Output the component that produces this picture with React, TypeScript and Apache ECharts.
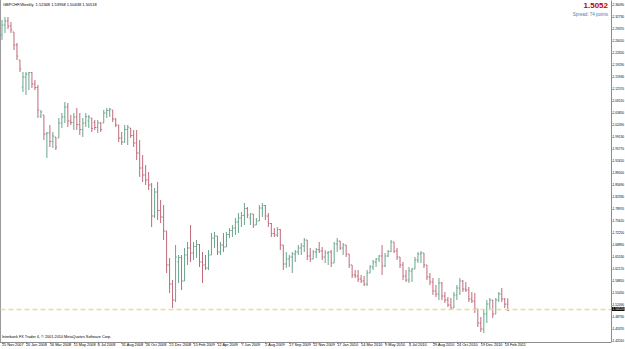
import React, { useEffect, useRef } from 'react';
import * as echarts from 'echarts';

const symbolTitle = 'GBPCHF,Weekly  1.52348 1.53968 1.50438 1.50518';
const bidPrice = 1.5052;
const spreadText = 'Spread: 74 points';
const copyrightText = 'Interbank FX Trader 4, © 2001-2010 MetaQuotes Software Corp.';

// one label every 8 weekly bars, starting at the first bar
const dateLabels = ['25 Nov 2007', '20 Jan 2008', '16 Mar 2008', '11 May 2008', '6 Jul 2008', '31 Aug 2008', '26 Oct 2008', '21 Dec 2008', '15 Feb 2009', '12 Apr 2009', '7 Jun 2009', '2 Aug 2009', '27 Sep 2009', '22 Nov 2009', '17 Jan 2010', '14 Mar 2010', '9 May 2010', '4 Jul 2010', '29 Aug 2010', '24 Oct 2010', '19 Dec 2010', '13 Feb 2011'];
const labelEvery = 8;
const emptySlots = 34;

const priceTicks = [2.3609, 2.3273, 2.2937, 2.2601, 2.2265, 2.1929, 2.1593, 2.1257, 2.0921, 2.0585, 2.0249, 1.9913, 1.9577, 1.9241, 1.8905, 1.8569, 1.8233, 1.7897, 1.7561, 1.7225, 1.6889, 1.6553, 1.6217, 1.5881, 1.5545, 1.5209, 1.4873, 1.4537, 1.4201];

const opens = [2.277, 2.305, 2.3162, 2.3022, 2.2854, 2.249, 2.207, 2.1314, 2.1594, 2.1678, 2.172, 2.1398, 2.13, 2.0502, 2.053, 1.9998, 2.0026, 1.9788, 1.9914, 1.9886, 2.0306, 2.0474, 2.0754, 2.0362, 2.032, 2.0474, 2.0264, 2.0124, 2.0306, 2.0362, 2.0446, 2.032, 2.018, 2.0306, 2.0306, 2.0586, 2.0656, 2.067, 2.0418, 2.025, 1.9886, 1.9774, 2.0124, 2.0166, 1.9956, 1.9746, 1.9466, 1.9046, 1.885, 1.871, 1.857, 1.7702, 1.8374, 1.7856, 1.7674, 1.7282, 1.633, 1.5798, 1.535, 1.6414, 1.654, 1.5882, 1.661, 1.6806, 1.6666, 1.6848, 1.6904, 1.6414, 1.633, 1.6246, 1.661, 1.7086, 1.7142, 1.6694, 1.689, 1.6834, 1.7184, 1.7296, 1.7366, 1.7534, 1.7646, 1.7716, 1.7912, 1.7646, 1.7758, 1.745, 1.7562, 1.7926, 1.7996, 1.7702, 1.7492, 1.7212, 1.717, 1.7324, 1.689, 1.6358, 1.6498, 1.6554, 1.6638, 1.6694, 1.6806, 1.6862, 1.703, 1.6582, 1.6498, 1.6694, 1.6764, 1.6722, 1.6554, 1.6666, 1.6694, 1.6386, 1.6918, 1.7002, 1.6806, 1.689, 1.6638, 1.633, 1.605, 1.6022, 1.5938, 1.5882, 1.5798, 1.6106, 1.6274, 1.6414, 1.6498, 1.6582, 1.6302, 1.6582, 1.6708, 1.6974, 1.6722, 1.6554, 1.633, 1.6022, 1.591, 1.6162, 1.6218, 1.647, 1.6638, 1.6666, 1.633, 1.5994, 1.5854, 1.5602, 1.5518, 1.5826, 1.5462, 1.535, 1.521, 1.5126, 1.549, 1.5686, 1.5882, 1.5658, 1.563, 1.5378, 1.5322, 1.5098, 1.4706, 1.4538, 1.4958, 1.5238, 1.535, 1.4958, 1.535, 1.5518, 1.5378, 1.5235];
const highs = [2.319, 2.3274, 2.3274, 2.3134, 2.2854, 2.2546, 2.207, 2.1734, 2.1734, 2.1734, 2.1734, 2.151, 2.137, 2.067, 2.053, 2.0054, 2.025, 2.0054, 1.9914, 2.0446, 2.0586, 2.0894, 2.0866, 2.053, 2.0586, 2.0726, 2.0586, 2.0446, 2.0586, 2.053, 2.0446, 2.039, 2.039, 2.0334, 2.067, 2.0726, 2.0726, 2.067, 2.0446, 2.025, 2.0054, 2.025, 2.025, 2.0166, 2.011, 2.011, 1.983, 1.941, 1.913, 1.8934, 1.8626, 1.8486, 1.8654, 1.815, 1.801, 1.7282, 1.6526, 1.591, 1.689, 1.661, 1.661, 1.6806, 1.6974, 1.745, 1.6974, 1.703, 1.6918, 1.6694, 1.661, 1.675, 1.7226, 1.7254, 1.7142, 1.6974, 1.7226, 1.7254, 1.7366, 1.745, 1.7646, 1.7786, 1.7814, 1.8066, 1.7954, 1.7786, 1.7758, 1.7646, 1.801, 1.8066, 1.801, 1.7786, 1.7506, 1.7366, 1.7394, 1.7338, 1.689, 1.6694, 1.661, 1.6694, 1.675, 1.689, 1.6946, 1.7086, 1.703, 1.6806, 1.675, 1.6806, 1.6974, 1.6834, 1.675, 1.6722, 1.675, 1.6974, 1.7086, 1.7002, 1.6946, 1.689, 1.6638, 1.633, 1.619, 1.619, 1.605, 1.6022, 1.619, 1.633, 1.647, 1.6526, 1.661, 1.689, 1.6666, 1.675, 1.703, 1.6974, 1.6806, 1.6554, 1.6414, 1.619, 1.6274, 1.6246, 1.6554, 1.6694, 1.6722, 1.6666, 1.633, 1.6106, 1.5966, 1.577, 1.5966, 1.5854, 1.5574, 1.5434, 1.5406, 1.5574, 1.577, 1.5966, 1.591, 1.5854, 1.5714, 1.5574, 1.5546, 1.5098, 1.4874, 1.507, 1.535, 1.5406, 1.535, 1.5406, 1.5574, 1.5686, 1.5406, 1.5397];
const lows = [2.263, 2.2826, 2.2938, 2.2826, 2.235, 2.207, 2.1734, 2.1174, 2.109, 2.123, 2.1286, 2.123, 2.0446, 2.0446, 1.983, 1.9326, 1.9634, 1.9606, 1.955, 1.9886, 2.0166, 2.0306, 2.0194, 2.025, 2.011, 2.011, 1.997, 1.9914, 2.0194, 2.0166, 2.0054, 2.011, 2.0026, 2.0054, 2.0306, 2.0446, 2.0474, 2.0334, 2.0194, 1.9774, 1.969, 1.9746, 1.969, 1.9886, 1.9634, 1.927, 1.8794, 1.8654, 1.857, 1.843, 1.7394, 1.7646, 1.759, 1.7506, 1.703, 1.6106, 1.5546, 1.5126, 1.5294, 1.5826, 1.563, 1.5882, 1.633, 1.6414, 1.647, 1.6526, 1.6274, 1.5826, 1.619, 1.619, 1.661, 1.6806, 1.661, 1.661, 1.6694, 1.6834, 1.7086, 1.7114, 1.717, 1.7226, 1.7394, 1.745, 1.7646, 1.745, 1.7366, 1.745, 1.7562, 1.7674, 1.759, 1.7394, 1.7114, 1.7114, 1.7114, 1.675, 1.619, 1.6246, 1.6274, 1.6106, 1.6414, 1.661, 1.661, 1.6694, 1.647, 1.6414, 1.6498, 1.6526, 1.6666, 1.647, 1.6386, 1.633, 1.6274, 1.6386, 1.6694, 1.675, 1.661, 1.6554, 1.6246, 1.5966, 1.5966, 1.5854, 1.5826, 1.5742, 1.5742, 1.6106, 1.619, 1.6274, 1.6414, 1.605, 1.6274, 1.6554, 1.6694, 1.6666, 1.647, 1.6246, 1.591, 1.5854, 1.5826, 1.5854, 1.6218, 1.6386, 1.6386, 1.6246, 1.591, 1.577, 1.549, 1.5434, 1.535, 1.535, 1.5266, 1.5154, 1.507, 1.5126, 1.535, 1.549, 1.5574, 1.5574, 1.5294, 1.5266, 1.4986, 1.4594, 1.4454, 1.4426, 1.4706, 1.507, 1.4846, 1.4958, 1.5294, 1.5294, 1.5126, 1.5044];
const closes = [2.305, 2.3162, 2.3022, 2.291, 2.249, 2.2182, 2.1818, 2.1594, 2.1678, 2.172, 2.1398, 2.13, 2.067, 2.0614, 1.9998, 2.0026, 1.9788, 1.9942, 1.9634, 2.0306, 2.0474, 2.0754, 2.0362, 2.032, 2.0474, 2.0264, 2.0124, 2.0306, 2.0488, 2.0474, 2.0152, 2.018, 2.0306, 2.0124, 2.0586, 2.0656, 2.0698, 2.0418, 2.025, 1.9886, 1.9774, 2.0124, 2.0194, 1.9956, 1.9746, 1.9466, 1.9046, 1.885, 1.871, 1.857, 1.7702, 1.8374, 1.7856, 1.7674, 1.7282, 1.633, 1.5798, 1.535, 1.6554, 1.654, 1.5882, 1.661, 1.6806, 1.6666, 1.6848, 1.6904, 1.6414, 1.633, 1.6246, 1.661, 1.7086, 1.7142, 1.6694, 1.689, 1.6834, 1.7184, 1.7296, 1.7366, 1.7534, 1.7646, 1.7716, 1.7912, 1.773, 1.7758, 1.745, 1.7562, 1.7926, 1.7996, 1.7702, 1.7492, 1.7212, 1.717, 1.7324, 1.689, 1.6358, 1.6498, 1.6554, 1.6638, 1.6694, 1.6806, 1.6862, 1.703, 1.6582, 1.6498, 1.6694, 1.6764, 1.6722, 1.6554, 1.6666, 1.6694, 1.6386, 1.6918, 1.7002, 1.6806, 1.689, 1.6638, 1.633, 1.605, 1.6022, 1.5938, 1.5882, 1.5798, 1.6106, 1.6274, 1.6414, 1.6498, 1.6582, 1.6302, 1.6582, 1.6708, 1.6974, 1.6722, 1.6554, 1.633, 1.6022, 1.591, 1.6162, 1.6218, 1.647, 1.6638, 1.6666, 1.633, 1.5994, 1.5854, 1.5602, 1.5518, 1.5826, 1.5462, 1.535, 1.521, 1.5126, 1.549, 1.5686, 1.5882, 1.5658, 1.563, 1.5378, 1.5322, 1.5098, 1.4706, 1.4538, 1.4958, 1.5238, 1.535, 1.4958, 1.535, 1.5518, 1.5378, 1.5235, 1.5052];

const UP = '#6aa58d';
const DOWN = '#c06a7a';
const FONT = 'Liberation Sans, Arial, sans-serif';

export default function App() {
  const ref = useRef<HTMLDivElement>(null);

  useEffect(() => {
    if (!ref.current) return;
    const chart = echarts.init(ref.current, undefined, { renderer: 'svg' });
    const barCount = opens.length;
    const categories = Array.from({ length: barCount + emptySlots }, (_, i) => String(i));
    const data = opens.map((o, i) => [i, o, closes[i], lows[i], highs[i]]);
    const showIdx = (idx: number) => idx % labelEvery === 0 && idx < barCount;

    chart.setOption({
      animation: false,
      backgroundColor: '#ffffff',
      textStyle: { fontFamily: FONT },
      grid: { left: 0.5, right: 14, top: 1, bottom: 7.2, containLabel: false, outerBoundsMode: 'none' },
      xAxis: {
        type: 'category',
        data: categories,
        boundaryGap: true,
        axisLine: { show: true, lineStyle: { color: '#8c8c8c', width: 1 } },
        axisTick: { show: true, interval: (idx: number) => showIdx(idx), alignWithLabel: true, length: 2, lineStyle: { color: '#8c8c8c' } },
        axisLabel: {
          interval: (idx: number) => showIdx(idx),
          formatter: (_v: string, idx: number) => dateLabels[Math.round(idx / labelEvery)] ?? '',
          align: 'left',
          fontSize: 3.8,
          margin: 1.5,
          color: '#000',
          fontFamily: FONT,
        },
        splitLine: { show: false },
      },
      yAxis: {
        type: 'value',
        position: 'right',
        min: 1.418,
        max: 2.3722,
        scale: true,
        axisLine: { show: true, lineStyle: { color: '#8c8c8c', width: 1 } },
        axisTick: { show: true, length: 1.5, customValues: priceTicks, lineStyle: { color: '#8c8c8c' } },
        axisLabel: {
          customValues: priceTicks,
          formatter: (v: number) => v.toFixed(5),
          fontSize: 3.2,
          margin: 1.5,
          color: '#000',
          fontFamily: FONT,
        },
        splitLine: { show: false },
      },
      series: [
        {
          type: 'custom',
          encode: { x: 0, y: [1, 2, 3, 4] },
          data,
          renderItem: (_params: any, api: any) => {
            const i = api.value(0);
            const o = api.value(1);
            const c = api.value(2);
            const l = api.value(3);
            const h = api.value(4);
            const top = api.coord([i, h]);
            const bot = api.coord([i, l]);
            const po = api.coord([i, o]);
            const pc = api.coord([i, c]);
            const x = top[0];
            const color = c >= o ? UP : DOWN;
            const st = { stroke: color, lineWidth: 1 };
            return {
              type: 'group',
              children: [
                { type: 'line', shape: { x1: x, y1: top[1], x2: x, y2: Math.max(bot[1], top[1] + 1) }, style: st },
                { type: 'line', shape: { x1: x - 1.2, y1: po[1], x2: x, y2: po[1] }, style: st },
                { type: 'line', shape: { x1: x, y1: pc[1], x2: x + 1.2, y2: pc[1] }, style: st },
              ],
            };
          },
          markLine: {
            silent: true,
            symbol: 'none',
            animation: false,
            lineStyle: { type: [5, 3], color: '#eadc9e', width: 1.3 },
            label: {
              show: true,
              position: 'end',
              distance: 1,
              formatter: bidPrice.toFixed(5),
              backgroundColor: '#000',
              color: '#fff',
              fontSize: 3.2,
              padding: [0.5, 0.5],
              fontFamily: FONT,
            },
            data: [{ yAxis: bidPrice }],
          },
        },
      ],
      graphic: [
        { type: 'line', shape: { x1: 0.5, y1: 0, x2: 0.5, y2: 342 }, style: { stroke: '#9a9a9a', lineWidth: 1 } },
        { type: 'text', left: 3, top: 2, style: { text: symbolTitle, fontSize: 4, fill: '#000', fontFamily: FONT } },
        { type: 'text', right: 17, top: 1, style: { text: bidPrice.toFixed(4), fontSize: 8, fontWeight: 'bold', fill: '#c40000', fontFamily: FONT } },
        { type: 'text', right: 17, top: 11.5, style: { text: spreadText, fontSize: 4.5, fill: '#4f7db0', fontFamily: FONT } },
        { type: 'text', left: 2, top: 335, style: { text: copyrightText, fontSize: 3.8, fill: '#000', fontFamily: FONT } },
      ],
    });

    return () => chart.dispose();
  }, []);

  return <div ref={ref} style={{ position: 'absolute', left: 0, top: 0, width: 625, height: 349 }} />;
}
